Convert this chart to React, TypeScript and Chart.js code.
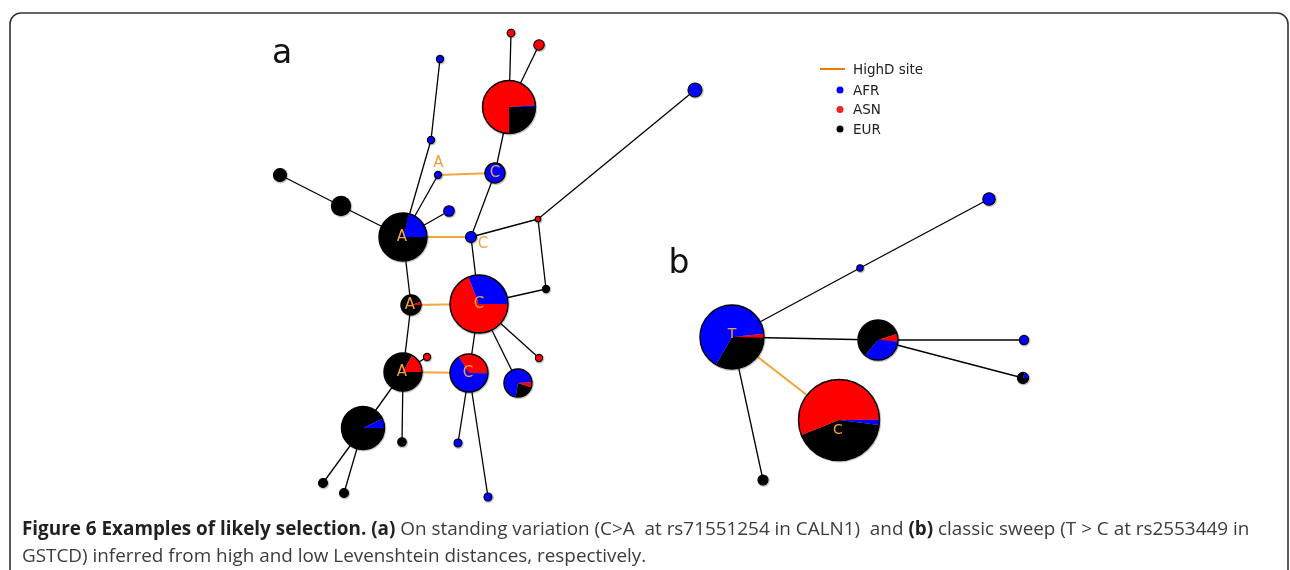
import React, { useEffect, useRef } from 'react';
import { Chart, registerables } from 'chart.js';
Chart.register(...registerables);

const W = 1290;
const H = 570;

// ---- network nodes (panel a: 0..27, panel b: 28..35) ----
const nodeX = [511, 539, 509, 440, 431, 438, 495, 695, 280, 341, 403, 449, 471, 538, 546, 479, 411, 403, 427, 469, 539, 518, 363, 402, 458, 488, 323, 344,
  732, 860, 989, 878, 1024, 1023, 839, 763];
const nodeY = [33, 45, 107, 59, 140, 175, 173, 90, 175, 206, 237, 211, 237, 219, 289, 304, 305, 372, 357, 373, 358, 383, 428, 442, 443, 497, 483, 493,
  337, 268, 199, 340, 340, 378, 420, 480];
const nodeSize = [3.8, 5.2, 26.5, 3.6, 3.6, 3.6, 10, 7, 6.5, 9.5, 24, 5.3, 5.5, 2.8, 3.6, 29, 10, 19, 3.6, 19, 3.6, 14, 21.5, 4.3, 4, 4, 4.5, 4.5,
  32, 3.2, 6.2, 20, 4.6, 5.6, 40.5, 5];
// population shares per node
const afr = [0, 0, 1, 1, 1, 1, 1, 1, 0, 0, 21, 1, 1, 0, 0, 31, 0, 0, 0, 66, 0, 71, 7, 0, 1, 1, 0, 0,
  65, 1, 1, 35, 1, 20, 2, 0];
const asn = [1, 1, 74, 0, 0, 0, 0, 0, 0, 0, 0, 0, 0, 1, 0, 69, 5, 17, 1, 34, 1, 6, 0, 0, 0, 0, 0, 0,
  2, 0, 0, 6, 0, 0, 56, 0];
const eur = [0, 0, 25, 0, 0, 0, 0, 0, 1, 1, 79, 0, 0, 0, 1, 0, 95, 83, 0, 0, 0, 23, 93, 1, 0, 0, 1, 1,
  33, 0, 0, 59, 0, 80, 42, 1];
// pie slice start angle (deg) and winding (1 clockwise, -1 anticlockwise)
const pieStart = [0, 0, 0, 0, 0, 0, 0, 0, 0, 0, 0, 0, 0, 0, 0, 0, 0, 0, 0, 238, 0, 100, 0, 0, 0, 0, 0, 0,
  120, 0, 0, 130, 0, 0, 7, 0];
const pieDir = [1, 1, 1, 1, 1, 1, 1, 1, 1, 1, 1, 1, 1, 1, 1, 1, 1, 1, 1, 1, 1, -1, 1, 1, 1, 1, 1, 1,
  -1, 1, 1, 1, 1, 1, 1, 1];

// ---- edges ----
const edgeFrom = [0, 1, 3, 4, 5, 5, 6, 6, 8, 9, 11, 10, 12, 13, 13, 14, 12, 10, 16, 16, 15, 15, 15, 17, 17, 17, 17, 19, 19, 22, 22,
  28, 29, 28, 31, 31, 28, 28];
const edgeTo = [2, 2, 4, 10, 10, 6, 2, 12, 9, 10, 10, 12, 13, 7, 14, 15, 15, 16, 15, 17, 19, 20, 21, 18, 19, 22, 23, 24, 25, 26, 27,
  29, 30, 31, 32, 33, 34, 35];
const edgeHighD = [0, 0, 0, 0, 0, 1, 0, 0, 0, 0, 0, 1, 0, 0, 0, 0, 0, 0, 1, 0, 0, 0, 0, 0, 1, 0, 0, 0, 0, 0, 0,
  0, 0, 0, 0, 0, 1, 0];

// ---- allele labels ----
const labelText = ['A', 'C', 'A', 'C', 'A', 'C', 'A', 'C', 'T', 'C'];
const labelNode = [5, 6, 10, 12, 16, 15, 17, 19, 28, 34];
const labelDx = [0.5, 0, -1, 12, -1, 0, -1, -1, 0, -1];
const labelDy = [-12, 0, 0, 7, 0, 0, 0, 0, -3, 10];

// ---- legend ----
const legendItems = ['HighD site', 'AFR', 'ASN', 'EUR'];
const legendColors = ['#f07800', '#0000ff', '#ee2222', '#000000'];

const panelLetters = ['a', 'b'];

const captionLine1 = [
  { t: 'Figure 6 Examples of likely selection.', b: true },
  { t: ' ', b: false },
  { t: '(a)', b: true },
  { t: ' On standing variation (C>A  at rs71551254 in CALN1)  and ', b: false },
  { t: '(b)', b: true },
  { t: ' classic sweep (T > C at rs2553449 in', b: false },
];
const captionLine2 = 'GSTCD) inferred from high and low Levenshtein distances, respectively.';

const POP_COLORS = ['#000000', '#ff0000', '#0000ff']; // EUR, ASN, AFR
const ORANGE_EDGE = '#f5a53c';
const ORANGE_TEXT = '#f3a33e';

const networkPlugin = {
  id: 'network',
  beforeDatasetsDraw(chart: any) {
    const ctx = chart.ctx;
    ctx.save();
    // frame
    ctx.strokeStyle = '#333333';
    ctx.lineWidth = 1.6;
    ctx.beginPath();
    const x0 = 10, y0 = 13, x1 = 1288, y1 = 640, r = 11;
    ctx.moveTo(x0 + r, y0);
    ctx.lineTo(x1 - r, y0);
    ctx.arcTo(x1, y0, x1, y0 + r, r);
    ctx.lineTo(x1, y1);
    ctx.moveTo(x0, y1);
    ctx.lineTo(x0, y0 + r);
    ctx.arcTo(x0, y0, x0 + r, y0, r);
    ctx.stroke();
    ctx.restore();
  },
  afterDatasetsDraw(chart: any) {
    const ctx = chart.ctx;
    const xs = chart.scales.x;
    const ys = chart.scales.y;
    ctx.save();
    // pies
    for (let i = 0; i < nodeX.length; i++) {
      const px = xs.getPixelForValue(nodeX[i]);
      const py = ys.getPixelForValue(nodeY[i]);
      const pr = xs.getPixelForValue(nodeX[i] + nodeSize[i]) - px;
      const vals = [eur[i], asn[i], afr[i]];
      const total = vals.reduce((s, v) => s + v, 0);
      const nonZero = vals.filter((v) => v > 0).length;
      // soft shadow ring
      ctx.beginPath();
      ctx.arc(px + 0.6, py + 0.8, pr + 1.2, 0, Math.PI * 2);
      ctx.fillStyle = 'rgba(0,0,0,0.22)';
      ctx.fill();
      if (nonZero === 1) {
        const k = vals.findIndex((v) => v > 0);
        ctx.beginPath();
        ctx.arc(px, py, pr, 0, Math.PI * 2);
        ctx.fillStyle = POP_COLORS[k];
        ctx.fill();
      } else {
        let a = (pieStart[i] * Math.PI) / 180;
        const dir = pieDir[i];
        for (let k = 0; k < 3; k++) {
          if (vals[k] <= 0) continue;
          const sweep = (vals[k] / total) * Math.PI * 2 * dir;
          ctx.beginPath();
          ctx.moveTo(px, py);
          ctx.arc(px, py, pr, a, a + sweep, dir < 0);
          ctx.closePath();
          ctx.fillStyle = POP_COLORS[k];
          ctx.fill();
          a += sweep;
        }
      }
      ctx.beginPath();
      ctx.arc(px, py, pr, 0, Math.PI * 2);
      ctx.strokeStyle = '#000000';
      ctx.lineWidth = pr > 8 ? 1.4 : 1.1;
      ctx.stroke();
    }
    // allele labels
    ctx.fillStyle = ORANGE_TEXT;
    ctx.textAlign = 'center';
    ctx.textBaseline = 'middle';
    for (let j = 0; j < labelText.length; j++) {
      const n = labelNode[j];
      const px = xs.getPixelForValue(nodeX[n]) + labelDx[j];
      const py = ys.getPixelForValue(nodeY[n]) + labelDy[j];
      ctx.font = (n >= 28 ? '14px' : '15px') + ' "DejaVu Sans"';
      ctx.fillText(labelText[j], px, py + 0.5);
    }
    ctx.restore();
  },
  afterDraw(chart: any) {
    const ctx = chart.ctx;
    ctx.save();
    // panel letters
    ctx.fillStyle = '#111111';
    ctx.font = '33px "DejaVu Sans"';
    ctx.textAlign = 'center';
    ctx.textBaseline = 'alphabetic';
    ctx.fillText(panelLetters[0], 282, 63);
    ctx.fillText(panelLetters[1], 679, 273);
    // legend
    ctx.font = '13.5px "DejaVu Sans"';
    ctx.textAlign = 'left';
    ctx.textBaseline = 'middle';
    const ly = [69, 90, 109.5, 129];
    for (let k = 0; k < legendItems.length; k++) {
      if (k === 0) {
        ctx.strokeStyle = legendColors[0];
        ctx.lineWidth = 2;
        ctx.beginPath();
        ctx.moveTo(820, ly[k]);
        ctx.lineTo(845, ly[k]);
        ctx.stroke();
      } else {
        ctx.fillStyle = legendColors[k];
        ctx.beginPath();
        ctx.arc(840, ly[k], 3.5, 0, Math.PI * 2);
        ctx.fill();
      }
      ctx.fillStyle = '#222222';
      ctx.fillText(legendItems[k], 853, ly[k] + 1);
    }
    // caption
    const fam = '"Open Sans", "Noto Sans", sans-serif';
    const measure = (size: number) => {
      let w = 0;
      for (const s of captionLine1) {
        ctx.font = (s.b ? 'bold ' : '') + size + 'px ' + fam;
        w += ctx.measureText(s.t).width;
      }
      return w;
    };
    const size = (16 * 1228) / measure(16);
    let x = 22;
    ctx.textBaseline = 'alphabetic';
    for (const s of captionLine1) {
      ctx.font = (s.b ? 'bold ' : '') + size + 'px ' + fam;
      ctx.fillStyle = s.b ? '#231f20' : '#3c3c3c';
      ctx.fillText(s.t, x, 534.5);
      x += ctx.measureText(s.t).width;
    }
    ctx.font = size + 'px ' + fam;
    ctx.fillStyle = '#3c3c3c';
    ctx.fillText(captionLine2, 22, 561.5);
    ctx.restore();
  },
};

export default function App() {
  const ref = useRef<HTMLCanvasElement | null>(null);
  useEffect(() => {
    document.body.style.margin = '0';
    const canvas = ref.current;
    if (!canvas) return;
    const datasets: any[] = edgeFrom.map((f, i) => ({
      type: 'scatter',
      data: [
        { x: nodeX[f], y: nodeY[f] },
        { x: nodeX[edgeTo[i]], y: nodeY[edgeTo[i]] },
      ],
      showLine: true,
      borderColor: edgeHighD[i] ? ORANGE_EDGE : '#000000',
      borderWidth: edgeHighD[i] ? 2.2 : 1.3,
      pointRadius: 0,
      pointHoverRadius: 0,
      fill: false,
    }));
    const chart = new Chart(canvas, {
      type: 'scatter',
      data: { datasets },
      options: {
        responsive: false,
        animation: false,
        events: [],
        layout: { padding: 0 },
        plugins: { legend: { display: false }, tooltip: { enabled: false }, title: { display: false } },
        scales: {
          x: { type: 'linear', min: 0, max: W, display: false },
          y: { type: 'linear', min: 0, max: H, reverse: true, display: false },
        },
      },
      plugins: [networkPlugin],
    });
    return () => chart.destroy();
  }, []);
  return (
    <div style={{ width: W, height: H, background: '#ffffff' }}>
      <canvas ref={ref} width={W} height={H} style={{ display: 'block' }} />
    </div>
  );
}
